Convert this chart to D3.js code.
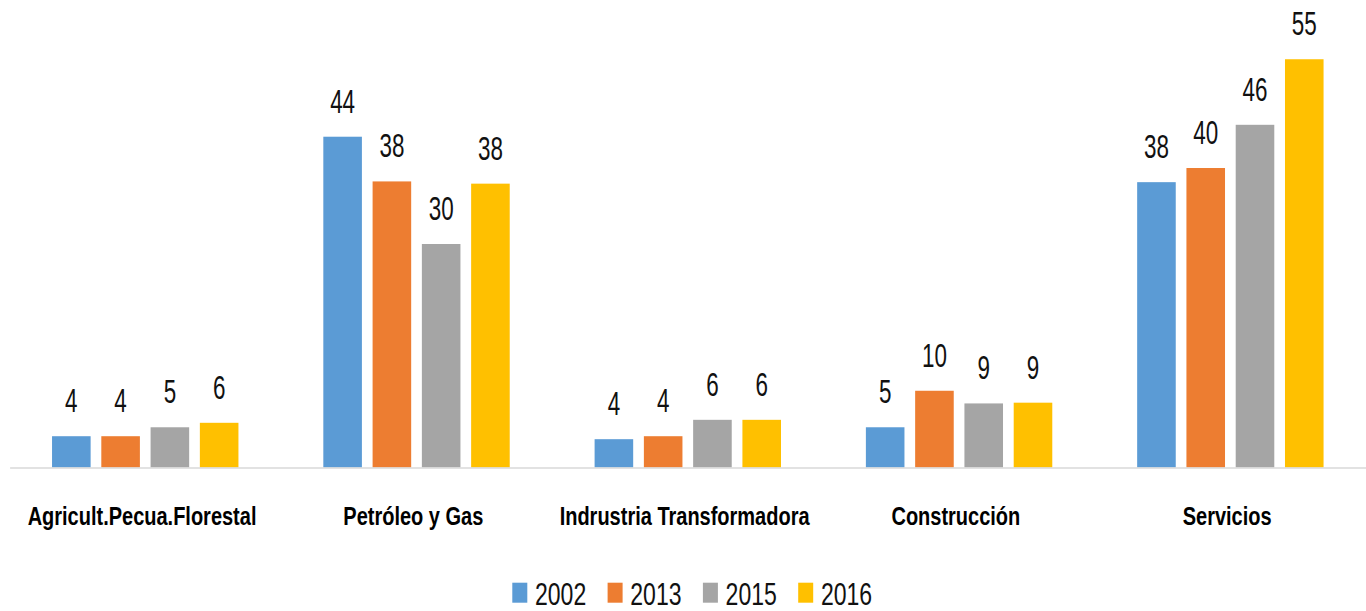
<!DOCTYPE html>
<html lang="es">
<head>
  <meta charset="UTF-8">
  <title>Sectores</title>
  <script src="https://d3js.org/d3.v7.min.js"></script>
  <style>
    body { margin: 0; background: #fff; }
    svg { display: block; font-family: "Liberation Sans", Arial, sans-serif; }
  </style>
</head>
<body>
  <svg width="1366" height="611"></svg>
  <script>
    // data
    const categories = ["Agricult.Pecua.Florestal", "Petróleo y Gas", "Indrustria Transformadora", "Construcción", "Servicios"];
    const years = ["2002", "2013", "2015", "2016"];
    const v2002 = [4.2, 44.4, 3.8, 5.4, 38.3];
    const v2013 = [4.2, 38.4, 4.2, 10.3, 40.2];
    const v2015 = [5.4, 30.0, 6.4, 8.6, 46.0];
    const v2016 = [6.0, 38.1, 6.4, 8.7, 54.8];
    const colors = ["#5b9bd5", "#ed7d31", "#a5a5a5", "#ffc000"];

    const series = [v2002, v2013, v2015, v2016];
    const rows = [];
    categories.forEach((c, i) => {
      years.forEach((yr, j) => rows.push({ cat: c, year: yr, value: series[j][i] }));
    });

    const svg = d3.select("svg");
    const baseY = 467.5;

    const x0 = d3.scaleBand().domain(categories).range([9.6, 1366]);
    const groupW = 186.4;
    const x1 = d3.scaleBand().domain(years).range([0, groupW]).paddingInner(0.217);
    const y = d3.scaleLinear().domain([0, 60]).range([baseY, baseY - 60 * 7.45]);
    const color = d3.scaleOrdinal().domain(years).range(colors);
    const fmt = d3.format(".0f");

    const gx = c => x0(c) + (x0.bandwidth() - groupW) / 2;

    // bars
    svg.append("g").selectAll("rect")
      .data(rows)
      .enter().append("rect")
      .attr("x", d => gx(d.cat) + x1(d.year))
      .attr("y", d => y(d.value))
      .attr("width", x1.bandwidth())
      .attr("height", d => baseY - y(d.value))
      .attr("fill", d => color(d.year));

    // value labels (narrow, tall type)
    svg.append("g").selectAll("g")
      .data(rows)
      .enter().append("g")
      .attr("transform", d => `translate(${gx(d.cat) + x1(d.year) + x1.bandwidth() / 2}, ${y(d.value) - 24})`)
      .append("text")
      .attr("transform", "scale(0.68,1)")
      .attr("text-anchor", "middle")
      .attr("font-size", 33)
      .attr("fill", "#111")
      .text(d => fmt(d.value));

    // x axis
    const axis = svg.append("g")
      .attr("transform", `translate(0, ${baseY})`)
      .call(d3.axisBottom(x0).tickSize(0).tickSizeOuter(0));
    axis.select(".domain").attr("stroke", "#d9d9d9").attr("stroke-width", 1.3);
    axis.selectAll(".tick text")
      .attr("y", 57.5)
      .attr("dy", 0)
      .attr("x", -4)
      .attr("transform", "scale(0.8,1)")
      .attr("font-size", 25)
      .attr("font-weight", "bold")
      .attr("font-family", "'Liberation Sans', Arial, sans-serif")
      .attr("fill", "#000");

    // legend
    const legend = svg.append("g").selectAll("g")
      .data(years)
      .enter().append("g")
      .attr("transform", (d, i) => `translate(${512.3 + i * 95.3}, 0)`);
    legend.append("rect")
      .attr("y", 582.7)
      .attr("width", 15)
      .attr("height", 20)
      .attr("fill", d => color(d));
    legend.append("g")
      .attr("transform", "translate(22.7, 605)")
      .append("text")
      .attr("transform", "scale(0.72,1)")
      .attr("font-size", 32)
      .attr("fill", "#111")
      .text(d => d);
  </script>
</body>
</html>
